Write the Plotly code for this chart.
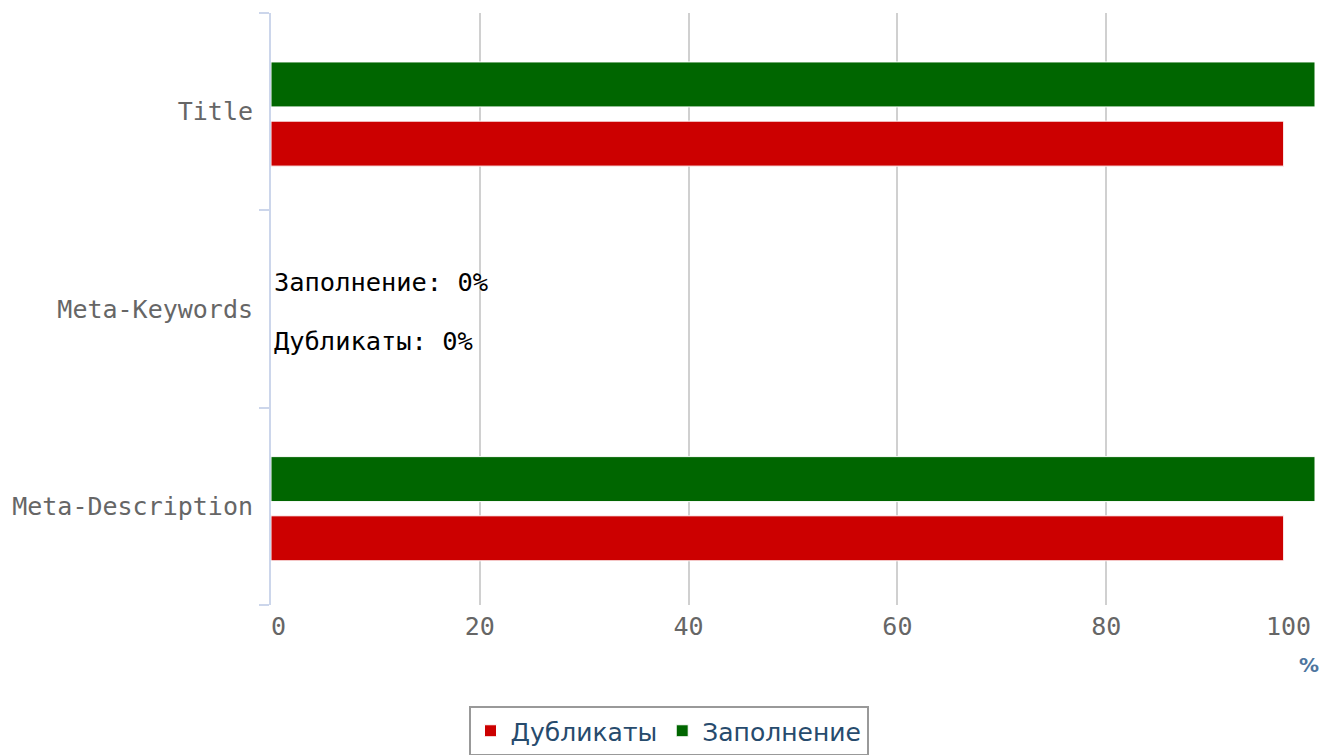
import plotly.graph_objects as go

categories = ["Title", "Meta-Keywords", "Meta-Description"]
dup_values = [97, 0, 97]
fill_values = [100, 0, 100]
series_names = ["Дубликаты", "Заполнение"]
series_colors = ["#cc0000", "#006600"]
x_ticks = [0, 20, 40, 60, 80, 100]

MONO = "DejaVu Sans Mono"
NB = "\u00a0"

# bar geometry (fraction of a category band), red below green
BAR_W = 0.228
BAR_OFFSETS = [-0.276, 0.024]

def labels(name, vals):
    return [f"{name}: {v}%" if v == 0 else "" for v in vals]

# first tick label nudged inward; last one drawn right-aligned below
tick_text = [str(t) for t in x_ticks]
tick_text[0] = NB + tick_text[0]
tick_text[-1] = ""

fig = go.Figure()
for name, vals, col, off in zip(series_names, [dup_values, fill_values],
                                series_colors, BAR_OFFSETS):
    fig.add_trace(go.Bar(
        y=categories, x=vals, name=name, orientation="h",
        width=BAR_W, offset=off,
        marker=dict(color=col, line=dict(color="white", width=1)),
        text=labels(name, vals), textposition="outside",
        textfont=dict(family=MONO, size=25.4, color="#000000"),
        constraintext="none", cliponaxis=False,
        hoverinfo="skip",
    ))

fig.update_layout(
    width=1321, height=747,
    margin=dict(l=263, r=14, t=5, b=150, autoexpand=False),
    paper_bgcolor="white", plot_bgcolor="white",
    barmode="overlay",
    font=dict(family=MONO, size=25, color="#666666"),
    xaxis=dict(
        range=[0, 100], tickvals=x_ticks, ticktext=tick_text,
        showgrid=True, gridcolor="#d0d0d0", gridwidth=2,
        zeroline=False, showline=False, ticks="",
        tickfont=dict(family=MONO, size=25, color="#666666"),
        ticklabelstandoff=4, automargin=False,
    ),
    yaxis=dict(
        categoryorder="array", categoryarray=categories[::-1],
        showgrid=False, zeroline=False, automargin=False,
        showline=True, linecolor="#ccd6eb", linewidth=2,
        ticks="outside", tickson="boundaries", ticklen=10,
        tickcolor="#ccd6eb", tickwidth=2,
        tickfont=dict(family=MONO, size=25, color="#666666"),
        ticklabelstandoff=11,
    ),
    legend=dict(
        orientation="h", xref="container", yref="container",
        x=0.5, xanchor="center", y=1 - 698 / 747, yanchor="top",
        bordercolor="#999999", borderwidth=2, bgcolor="white",
        font=dict(family="DejaVu Sans", size=25, color="#274b6d"),
    ),
    showlegend=True,
    annotations=[
        dict(
            text=str(x_ticks[-1]), xref="x", yref="paper", x=x_ticks[-1], y=0,
            xanchor="right", yanchor="middle", yshift=-21, xshift=-2,
            showarrow=False,
            font=dict(family=MONO, size=25, color="#666666"),
        ),
        dict(
            text="<b>%</b>", xref="paper", yref="paper", x=1.0, y=0,
            xanchor="right", yanchor="top", yshift=-46, xshift=6, showarrow=False,
            font=dict(family="DejaVu Sans", size=20, color="#4d759e"),
        ),
    ],
)

fig.write_html("out.html")
